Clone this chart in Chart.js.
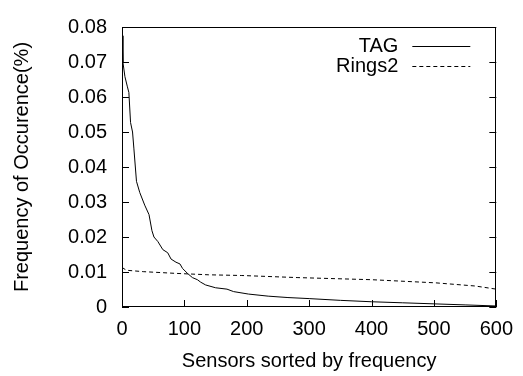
<!DOCTYPE html>
<html><head><meta charset="utf-8">
<script src="https://cdn.jsdelivr.net/npm/chart.js@4/dist/chart.umd.min.js"></script>
<style>html,body{margin:0;padding:0;background:#fff}#wrap{width:523px;height:376px}</style>
</head><body><div id="wrap"><canvas id="c" width="523" height="376"></canvas></div>
<script>
// ---- data ----
const seriesNames = ['TAG', 'Rings2'];
const tagX = [0, 1.5, 4.7, 8.4, 11, 13.7, 16.9, 19, 23.2, 28.5, 36.4, 43.3, 48, 51.2, 57.5, 65.4, 73.3, 78.6, 86.5, 92.9, 97.1, 105, 112.9, 120.8, 126.1, 134, 149.9, 168.3, 178.9, 202.6, 234.3, 266, 300, 350, 400, 450, 500, 550, 598, 600];
const tagY = [0.0775, 0.0699, 0.0658, 0.0631, 0.0613, 0.0527, 0.05, 0.0454, 0.0359, 0.0327, 0.0291, 0.0264, 0.0218, 0.02, 0.0187, 0.0164, 0.0155, 0.0137, 0.0128, 0.0123, 0.011, 0.0096, 0.0084, 0.0078, 0.0071, 0.0063, 0.0055, 0.0051, 0.0044, 0.0037, 0.0031, 0.0027, 0.0024, 0.0019, 0.0015, 0.0012, 0.0009, 0.0006, 0.0003, 0.0001];
const ringsX = [0, 7, 34, 87, 139, 192, 282, 400, 503, 566, 600];
const ringsY = [0.0113, 0.0105, 0.0101, 0.0096, 0.0092, 0.009, 0.0084, 0.0078, 0.0069, 0.006, 0.0051];
const xTickValues = [0, 100, 200, 300, 400, 500, 600];
const yTickValues = [0, 0.01, 0.02, 0.03, 0.04, 0.05, 0.06, 0.07, 0.08];
const xTitle = 'Sensors sorted by frequency';
const yTitle = 'Frequency of Occurence(%)';

const FONT = "'Liberation Sans', Arial, sans-serif";
Chart.defaults.font.family = FONT;
Chart.defaults.color = '#000';

const toPts = (xs, ys) => xs.map((x, i) => ({x: x, y: ys[i]}));

const frame = {
  id: 'frame',
  afterDraw(chart) {
    const {ctx, chartArea: a, scales: {x, y}} = chart;
    ctx.save();
    ctx.strokeStyle = '#000';
    ctx.lineWidth = 1;
    ctx.strokeRect(Math.round(a.left) + 0.5, Math.round(a.top) + 0.5, Math.round(a.right - a.left) - 1, Math.round(a.bottom - a.top) - 1);
    ctx.beginPath();
    const tl = 7;
    x.ticks.forEach(t => {
      const px = Math.round(x.getPixelForValue(t.value)) + 0.5;
      ctx.moveTo(px, a.bottom); ctx.lineTo(px, a.bottom - tl);
    });
    y.ticks.forEach(t => {
      const py = Math.round(y.getPixelForValue(t.value)) + 0.5;
      ctx.moveTo(a.left, py); ctx.lineTo(a.left + tl, py);
      ctx.moveTo(a.right, py); ctx.lineTo(a.right - tl, py);
    });
    ctx.stroke();
    // legend (gnuplot style: text then sample)
    ctx.font = '20px ' + FONT;
    ctx.textAlign = 'right';
    ctx.textBaseline = 'middle';
    ctx.fillStyle = '#000';
    chart.data.datasets.forEach((ds, i) => {
      const yy = a.top + 18.5 + i * 20;
      ctx.fillText(ds.label, a.right - 98, yy + 1);
      ctx.beginPath();
      ctx.setLineDash(ds.borderDash || []);
      ctx.moveTo(a.right - 84, Math.round(yy) + 0.5);
      ctx.lineTo(a.right - 26, Math.round(yy) + 0.5);
      ctx.stroke();
      ctx.setLineDash([]);
    });
    ctx.restore();
  }
};

new Chart(document.getElementById('c'), {
  type: 'line',
  data: {
    datasets: [
      {label: seriesNames[0], data: toPts(tagX, tagY), borderColor: '#000', borderWidth: 1, pointRadius: 0, tension: 0, fill: false},
      {label: seriesNames[1], data: toPts(ringsX, ringsY), borderColor: '#000', borderWidth: 1, borderDash: [4, 3], pointRadius: 0, tension: 0, fill: false}
    ]
  },
  options: {
    responsive: false,
    animation: false,
    devicePixelRatio: 1,
    layout: {padding: {top: 13, right: 22, left: 0, bottom: 0}},
    plugins: {legend: {display: false}, tooltip: {enabled: false}},
    scales: {
      x: {
        type: 'linear', min: 0, max: 600,
        afterBuildTicks: s => { s.ticks = xTickValues.map(v => ({value: v})); },
        ticks: {font: {size: 20}, color: '#000', padding: 10, maxRotation: 0, callback: v => String(v)},
        grid: {display: false, drawTicks: false},
        border: {display: false},
        title: {display: true, text: xTitle, font: {size: 20}, color: '#000', padding: {top: 0, bottom: 3}},
        afterFit: s => { s.height = 69; }
      },
      y: {
        type: 'linear', min: 0, max: 0.08,
        afterBuildTicks: s => { s.ticks = yTickValues.map(v => ({value: v})); },
        ticks: {font: {size: 20}, color: '#000', padding: 15, callback: v => v === 0 ? '0' : v.toFixed(2)},
        grid: {display: false, drawTicks: false},
        border: {display: false},
        title: {display: true, text: yTitle, font: {size: 20}, color: '#000', padding: {top: 10, bottom: 0}},
        afterFit: s => { s.width = 122; }
      }
    }
  },
  plugins: [frame]
});
</script></body></html>
